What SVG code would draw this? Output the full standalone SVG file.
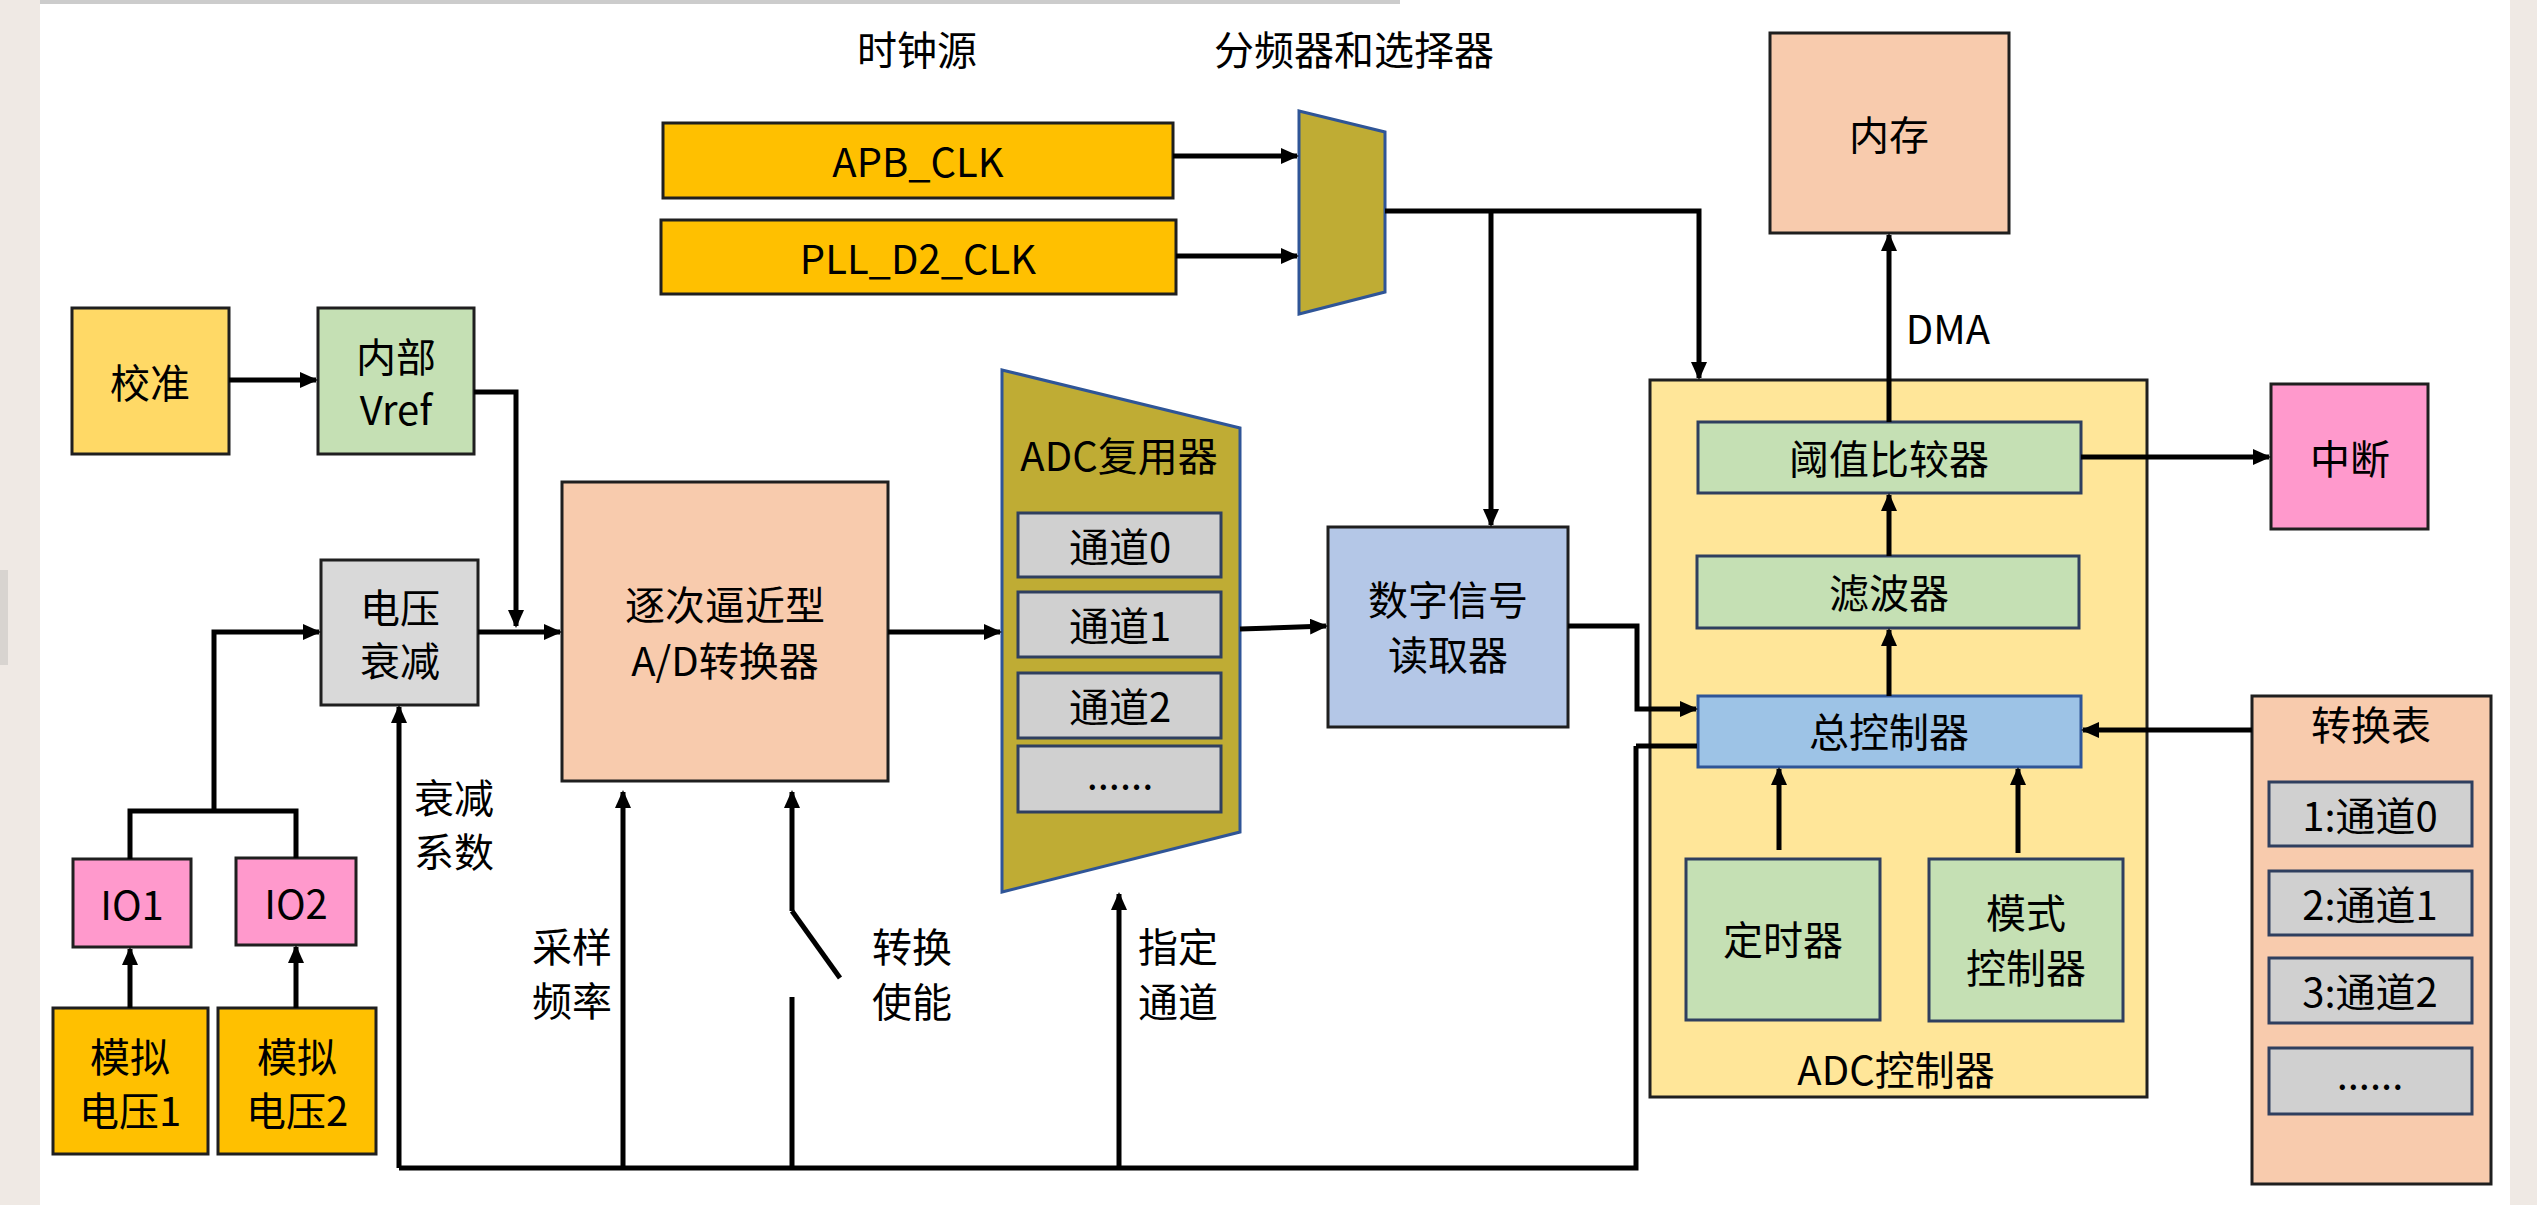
<svg xmlns="http://www.w3.org/2000/svg" width="2537" height="1205" viewBox="0 0 2537 1205">
<style>
text{font-family:"Noto Sans CJK SC","Liberation Sans",sans-serif;font-size:40px;fill:#000;text-anchor:middle;dominant-baseline:central}
.b{stroke:#1f1f1f;stroke-width:3}
.c{fill:none;stroke:#000;stroke-width:5}
.ch{fill:#d0d0d0;stroke:#2f3f5f;stroke-width:3}
</style>
<defs>
<marker id="a" markerUnits="userSpaceOnUse" markerWidth="18" markerHeight="16" refX="16" refY="8" orient="auto"><path d="M0,0 L18,8 L0,16 Z" fill="#000"/></marker>
</defs>
<rect width="2537" height="1205" fill="#fff"/>
<rect x="0" y="0" width="40" height="1205" fill="#efe9e4"/>
<rect x="0" y="570" width="8" height="95" fill="#d8d4d0"/>
<rect x="2510" y="0" width="27" height="1205" fill="#efe9e4"/>
<rect x="40" y="0" width="1360" height="4" fill="#ccc"/>

<text x="917" y="48">时钟源</text>
<text x="1354" y="48">分频器和选择器</text>

<g id="apb"><rect class="b" x="663" y="123" width="510" height="75" fill="#ffc000"/><text x="918" y="160">APB_CLK</text></g>
<g id="pll"><rect class="b" x="661" y="220" width="515" height="74" fill="#ffc000"/><text x="918" y="257">PLL_D2_CLK</text></g>
<g id="clkmux"><polygon points="1299,111 1385,132 1385,292 1299,314" fill="#bfac34" stroke="#2f5597" stroke-width="3"/></g>

<g id="cal"><rect class="b" x="72" y="308" width="157" height="146" fill="#ffd966"/><text x="150" y="381">校准</text></g>
<g id="vref"><rect class="b" x="318" y="308" width="156" height="146" fill="#c5e0b4"/><text x="396" y="355">内部</text><text x="396" y="408">Vref</text></g>
<g id="atten"><rect class="b" x="321" y="560" width="157" height="145" fill="#d9d9d9"/><text x="400" y="606">电压</text><text x="400" y="659">衰减</text></g>
<g id="io1"><rect class="b" x="73" y="859" width="118" height="88" fill="#ff99cc"/><text x="132" y="903">IO1</text></g>
<g id="io2"><rect class="b" x="236" y="858" width="120" height="87" fill="#ff99cc"/><text x="296" y="902">IO2</text></g>
<g id="v1"><rect class="b" x="53" y="1008" width="155" height="146" fill="#ffc000"/><text x="130" y="1055">模拟</text><text x="130" y="1109">电压1</text></g>
<g id="v2"><rect class="b" x="218" y="1008" width="158" height="146" fill="#ffc000"/><text x="297" y="1055">模拟</text><text x="297" y="1109">电压2</text></g>

<g id="sar"><rect class="b" x="562" y="482" width="326" height="299" fill="#f8cbad"/><text x="725" y="603">逐次逼近型</text><text x="725" y="659">A/D转换器</text></g>

<g id="adcmux"><polygon points="1002,370 1240,428 1240,832 1002,892" fill="#bfac34" stroke="#2f5597" stroke-width="3"/><text x="1119" y="454">ADC复用器</text>
<rect class="ch" x="1018" y="513" width="203" height="64"/><text x="1120" y="545">通道0</text>
<rect class="ch" x="1018" y="592" width="203" height="65"/><text x="1120" y="624">通道1</text>
<rect class="ch" x="1018" y="673" width="203" height="65"/><text x="1120" y="705">通道2</text>
<rect class="ch" x="1018" y="746" width="203" height="66"/><text x="1120" y="772">......</text></g>

<g id="reader"><rect class="b" x="1328" y="527" width="240" height="200" fill="#b4c7e7"/><text x="1448" y="598">数字信号</text><text x="1448" y="653">读取器</text></g>

<g id="mem"><rect class="b" x="1770" y="33" width="239" height="200" fill="#f8cbad"/><text x="1889" y="133">内存</text></g>
<g id="irq"><rect class="b" x="2271" y="384" width="157" height="145" fill="#ff99cc"/><text x="2350" y="457">中断</text></g>

<g id="adcctl"><rect class="b" x="1650" y="380" width="497" height="717" fill="#ffe699"/><text x="1896" y="1068">ADC控制器</text>
<rect x="1698" y="422" width="383" height="71" fill="#c5e0b4" stroke="#2f3f5f" stroke-width="3"/><text x="1889" y="457">阈值比较器</text>
<rect x="1697" y="556" width="382" height="72" fill="#c5e0b4" stroke="#2f3f5f" stroke-width="3"/><text x="1889" y="591">滤波器</text>
<rect x="1698" y="696" width="383" height="71" fill="#9dc3e6" stroke="#2f5597" stroke-width="3"/><text x="1889" y="730">总控制器</text>
<rect x="1686" y="859" width="194" height="161" fill="#c5e0b4" stroke="#2f3f5f" stroke-width="3"/><text x="1783" y="938">定时器</text>
<rect x="1929" y="859" width="194" height="162" fill="#c5e0b4" stroke="#2f3f5f" stroke-width="3"/><text x="2026" y="911">模式</text><text x="2026" y="966">控制器</text></g>

<g id="table"><rect class="b" x="2252" y="696" width="239" height="488" fill="#f8cbad"/><text x="2371" y="723">转换表</text>
<rect class="ch" x="2269" y="782" width="203" height="64"/><text x="2370" y="814">1:通道0</text>
<rect class="ch" x="2269" y="871" width="203" height="64"/><text x="2370" y="903">2:通道1</text>
<rect class="ch" x="2269" y="958" width="203" height="65"/><text x="2370" y="990">3:通道2</text>
<rect class="ch" x="2269" y="1048" width="203" height="66"/><text x="2370" y="1072">......</text></g>

<g id="labels">
<text x="454" y="796">衰减</text><text x="454" y="850">系数</text>
<text x="572" y="945">采样</text><text x="572" y="999">频率</text>
<text x="912" y="945">转换</text><text x="912" y="1000">使能</text>
<text x="1178" y="945">指定</text><text x="1178" y="1000">通道</text>
<text x="1948" y="327">DMA</text>
</g>

<g id="connectors">
<path class="c" d="M1173,156 H1297" marker-end="url(#a)"/>
<path class="c" d="M1176,256 H1297" marker-end="url(#a)"/>
<path class="c" d="M1385,211 H1699 V378" marker-end="url(#a)"/>
<path class="c" d="M1491,211 V525" marker-end="url(#a)"/>
<path class="c" d="M229,380 H316" marker-end="url(#a)"/>
<path class="c" d="M474,392 H516 V626" marker-end="url(#a)"/>
<path class="c" d="M478,632 H560" marker-end="url(#a)"/>
<path class="c" d="M130,859 V811 H296 V858"/>
<path class="c" d="M214,811 V632 H319" marker-end="url(#a)"/>
<path class="c" d="M130,1008 V949" marker-end="url(#a)"/>
<path class="c" d="M296,1008 V947" marker-end="url(#a)"/>
<path class="c" d="M1636,746 H1697"/>
<path class="c" d="M399,1168 H1636 V746"/>
<path class="c" d="M399,1168 V707" marker-end="url(#a)"/>
<path class="c" d="M623,1168 V792" marker-end="url(#a)"/>
<path class="c" d="M792,911 V792" marker-end="url(#a)"/>
<path class="c" d="M792,911 L840,978"/>
<path class="c" d="M792,997 V1168"/>
<path class="c" d="M1119,1168 V894" marker-end="url(#a)"/>
<path class="c" d="M888,632 H1000" marker-end="url(#a)"/>
<path class="c" d="M1240,629 L1326,626" marker-end="url(#a)"/>
<path class="c" d="M1568,626 H1637 V709 H1696" marker-end="url(#a)"/>
<path class="c" d="M1779,850 V769" marker-end="url(#a)"/>
<path class="c" d="M2018,853 V769" marker-end="url(#a)"/>
<path class="c" d="M1889,696 V630" marker-end="url(#a)"/>
<path class="c" d="M1889,556 V495" marker-end="url(#a)"/>
<path class="c" d="M1889,422 V235" marker-end="url(#a)"/>
<path class="c" d="M2081,457 H2269" marker-end="url(#a)"/>
<path class="c" d="M2252,730 H2083" marker-end="url(#a)"/>
</g>
</svg>
